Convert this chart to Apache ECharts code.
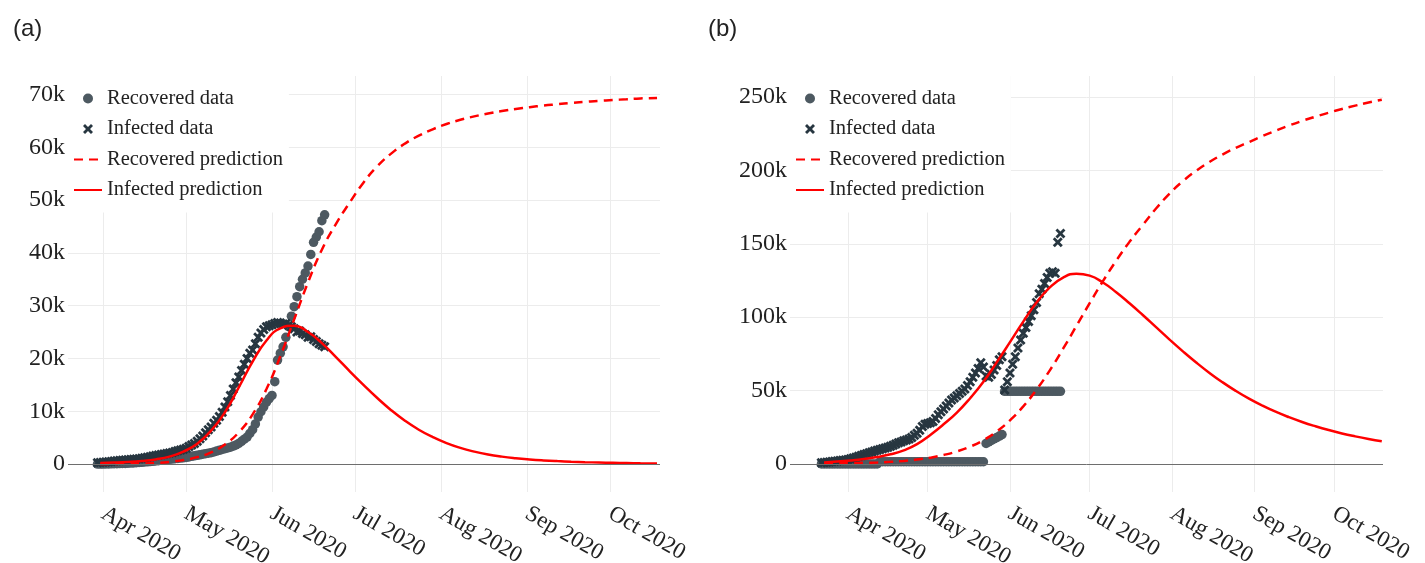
<!DOCTYPE html>
<html><head><meta charset="utf-8">
<script src="https://cdn.jsdelivr.net/npm/echarts@6/dist/echarts.min.js"></script>
<style>html,body{margin:0;padding:0;background:#fff}#c{width:1425px;height:563px}</style>
</head><body><div id="c"></div>
<script>
// ---------- tick labels ----------
const monthTickLabels = ['Jan 2020','Feb 2020','Mar 2020','Apr 2020','May 2020','Jun 2020','Jul 2020','Aug 2020','Sep 2020','Oct 2020','Nov 2020','Dec 2020'];
const legendNames = ['Recovered data','Infected data','Recovered prediction','Infected prediction'];
const panelLabels = ['(a)','(b)'];

// ---------- panel (a) observed data: daily from 2020-03-30 ----------
const startA = [2020, 2, 30];
const recoveredA = [
  0, 0,
  0, 10, 20, 30, 50, 60, 80, 100, 120, 150,
  180, 210, 250, 290, 330, 380, 420, 470, 520, 580,
  640, 700, 760, 820, 880, 940, 1000, 1060, 1120, 1180,
  1250, 1350, 1450, 1550, 1650, 1750, 1850, 1950, 2050, 2150,
  2300, 2450, 2600, 2750, 2900, 3050, 3200, 3400, 3600, 3900,
  4300, 4700, 5100, 5800, 6500, 7600, 8900, 9900, 10800, 11700, 12400,
  13000, 15600, 19700, 21000, 22200, 24000, 26000, 28000, 29800, 31700,
  33600, 35000, 36200, 37500, 39700, 42000, 43000, 44000, 46100, 47200
];
const infectedA = [
  250, 300,
  350, 400, 450, 500, 550, 600, 650, 700, 750, 800,
  850, 900, 950, 1000, 1100, 1200, 1300, 1400, 1500, 1600,
  1700, 1800, 1900, 2000, 2100, 2200, 2350, 2500, 2650, 2800,
  3000, 3300, 3600, 3900, 4300, 4800, 5300, 5900, 6500, 7000,
  7700, 8300, 9000, 9800, 10800, 11800, 13000, 14200, 15400, 16500,
  17700, 18900, 20000, 21000, 21600, 22800, 24000, 24800, 25500, 26000, 26200,
  26400, 26600, 26800, 26700, 26500, 26600, 26300, 26000, 25600, 25000,
  25200, 24700, 24500, 24000, 24100, 23600, 23200, 22800, 22500, 22200
];
// ---------- panel (a) predictions (every 5 days from 2020-03-31, last 2020-10-18) ----------
const predDatesA = ['2020-03-31','2020-04-05','2020-04-10','2020-04-15','2020-04-20','2020-04-25','2020-04-30','2020-05-05','2020-05-10','2020-05-15','2020-05-20','2020-05-25','2020-05-30','2020-06-04','2020-06-09','2020-06-14','2020-06-19','2020-06-24','2020-06-29','2020-07-04','2020-07-09','2020-07-14','2020-07-19','2020-07-24','2020-07-29','2020-08-03','2020-08-08','2020-08-13','2020-08-18','2020-08-23','2020-08-28','2020-09-02','2020-09-07','2020-09-12','2020-09-17','2020-09-22','2020-09-27','2020-10-02','2020-10-07','2020-10-12','2020-10-18'];
const infPredA = [200, 270, 380, 560, 870, 1400, 2350, 3850, 6300, 9800, 14500, 19400, 23400, 25700, 26200, 25000, 22900, 20300, 17600, 15000, 12500, 10200, 8200, 6500, 5100, 3950, 3050, 2350, 1800, 1400, 1100, 870, 690, 550, 440, 350, 280, 225, 180, 145, 115];
const recPredA = [0, 20, 50, 100, 200, 400, 750, 1300, 2200, 3700, 6000, 9400, 14200, 20400, 27400, 34400, 40600, 45400, 49500, 53300, 56400, 58800, 60700, 62200, 63400, 64400, 65200, 65850, 66400, 66850, 67250, 67600, 67900, 68150, 68400, 68600, 68800, 68950, 69100, 69250, 69350];

// ---------- panel (b) observed data: daily from 2020-03-22 ----------
const startB = [2020, 2, 22];
const infectedB = [
  800, 1000, 1200, 1400, 1700, 1900, 2100, 2300, 2500, 2700,
  3000, 3500, 4000, 4600, 5200, 5800, 6400, 7000, 7600, 8200,
  8800, 9300, 9800, 10300, 10800, 11400, 12000, 12800, 13600, 14500,
  15000, 15800, 16300, 17000, 18000, 19500, 21000, 23000, 25500, 27000,
  27500, 28000, 29000, 31000, 33500, 35500, 37500, 39500, 41500, 43500,
  45000, 46500, 48000, 49500, 51000, 53500, 56000, 59000, 62000, 65000,
  69000, 66000, 60000, 59000, 61000, 64000, 67000, 71000, 73000, 50400, 56000,
  62000, 68000, 73000, 79000, 84500, 89000, 93000, 97000, 101000, 105000,
  110000, 116000, 119000, 123000, 127000, 130000, 131000, 130000, 151000, 157000
];
const recoveredB = [
  0, 0, 0, 0, 0, 0, 0, 0, 0, 0,
  0, 0, 0, 0, 0, 0, 0, 0, 0, 0, 0, 0,
  1500, 1500, 1500, 1500, 1500, 1500, 1500, 1500, 1500, 1500, 1500, 1500, 1500, 1500, 1500, 1500, 1500, 1500,
  1500, 1500, 1500, 1500, 1500, 1500, 1500, 1500, 1500, 1500, 1500,
  1500, 1500, 1500, 1500, 1500, 1500, 1500, 1500, 1500, 1500, 1500,
  14000, 15000, 16000, 17000, 18000, 19000, 20000,
  49500, 49500,
  49500, 49500, 49500, 49500, 49500, 49500, 49500, 49500, 49500, 49500,
  49500, 49500, 49500, 49500, 49500, 49500, 49500, 49500, 49500, 49500
];
// ---------- panel (b) predictions (every 5 days from 2020-03-23) ----------
const predDatesB = ['2020-03-23','2020-03-28','2020-04-02','2020-04-07','2020-04-12','2020-04-17','2020-04-22','2020-04-27','2020-05-02','2020-05-07','2020-05-12','2020-05-17','2020-05-22','2020-05-27','2020-06-01','2020-06-06','2020-06-11','2020-06-16','2020-06-21','2020-06-26','2020-07-01','2020-07-06','2020-07-11','2020-07-16','2020-07-21','2020-07-26','2020-07-31','2020-08-05','2020-08-10','2020-08-15','2020-08-20','2020-08-25','2020-08-30','2020-09-04','2020-09-09','2020-09-14','2020-09-19','2020-09-24','2020-09-29','2020-10-04','2020-10-09','2020-10-14','2020-10-19'];
const infPredB = [1000, 1600, 2400, 3400, 4700, 6600, 9300, 13500, 19800, 27000, 35000, 44800, 56000, 69200, 83000, 97000, 110000, 120300, 127000, 129600, 128300, 123600, 117000, 109500, 101500, 93200, 84900, 76900, 69300, 62200, 55700, 49800, 44500, 39800, 35600, 31900, 28600, 25700, 23100, 20800, 18800, 17000, 15400];
const recPredB = [300, 420, 580, 780, 1050, 1450, 2050, 3000, 4300, 6100, 8500, 11800, 16200, 22100, 29700, 39200, 50600, 63800, 78500, 94000, 109500, 124500, 138500, 151300, 162800, 174000, 184000, 192500, 199600, 205600, 210800, 215300, 219300, 223300, 227000, 230500, 233700, 236600, 239300, 241800, 244100, 246200, 248100];

// ---------- helpers ----------
function dailySeries(start, values) {
  return values.map((v, i) => [new Date(start[0], start[1], start[2] + i).getTime(), v]);
}
function pairs(dates, values) {
  return values.map((v, i) => {
    const p = dates[i].split('-').map(Number);
    return [new Date(p[0], p[1] - 1, p[2]).getTime(), v];
  });
}
const DOT = '#4d5961';
const CROSS = '#273640';
const RED = '#ff0000';
const SERIF = '"Liberation Serif", "Times New Roman", serif';
const crossPath = 'path://M2,0 L5,3 L8,0 L10,2 L7,5 L10,8 L8,10 L5,7 L2,10 L0,8 L3,5 L0,2 Z';

const grids = [
  { left: 68, top: 76, width: 592, height: 416, outerBoundsMode: 'none', containLabel: false },
  { left: 790, top: 76, width: 593, height: 416, outerBoundsMode: 'none', containLabel: false }
];
const xRanges = [
  [new Date(2020, 2, 19, 8, 24).getTime(), new Date(2020, 9, 19, 1, 40).getTime()],
  [new Date(2020, 2, 10, 4, 0).getTime(), new Date(2020, 9, 19, 11, 0).getTime()]
];
const yRanges = [[-5300, 73500], [-19100, 264300]];
const ySplits = [8, 6];

function xAxis(i) {
  return {
    type: 'time', gridIndex: i, min: xRanges[i][0], max: xRanges[i][1],
    splitNumber: 7, maxInterval: 31 * 86400000, minInterval: 28 * 86400000,
    axisLine: { show: false }, axisTick: { show: false },
    splitLine: { show: true, showMinLine: false, showMaxLine: false, lineStyle: { color: '#ececec', width: 1 } },
    axisLabel: {
      rotate: -30, margin: 20, fontFamily: SERIF, fontSize: 23, color: '#222',
      hideOverlap: false,
      formatter: function (v) {
        const d = new Date(v);
        if (d.getDate() !== 1 || d.getHours() !== 0) return '';
        return monthTickLabels[d.getMonth()];
      }
    }
  };
}
function yAxis(i, step) {
  return {
    type: 'value', gridIndex: i, min: yRanges[i][0], max: yRanges[i][1], splitNumber: ySplits[i],
    axisLine: { show: false }, axisTick: { show: false },
    splitLine: { show: true, showMinLine: false, showMaxLine: false, lineStyle: { color: '#ececec', width: 1 } },
    axisLabel: {
      margin: 3, fontFamily: SERIF, fontSize: 24, color: '#222',
      formatter: function (v) {
        if (Math.round(v) % step !== 0) return '';
        return v === 0 ? '0' : (v / 1000) + 'k';
      }
    }
  };
}
function legend(i) {
  return {
    left: grids[i].left, top: grids[i].top, orient: 'vertical',
    backgroundColor: '#ffffff', padding: [12, 6, 12, 5],
    itemGap: 9.5, itemWidth: 28, itemHeight: 10,
    textStyle: { fontFamily: SERIF, fontSize: 20.5, color: '#222' },
    data: [
      { name: legendNames[0], icon: 'circle', itemStyle: { color: DOT } },
      { name: legendNames[1], icon: crossPath, itemStyle: { color: CROSS } },
      { name: legendNames[2], itemStyle: { opacity: 0 } },
      { name: legendNames[3], itemStyle: { opacity: 0 } }
    ]
  };
}
function panelSeries(i, rec, inf, recPred, infPred) {
  return [
    { name: legendNames[0], type: 'scatter', xAxisIndex: i, yAxisIndex: i, data: rec,
      symbol: 'circle', symbolSize: 9.5, itemStyle: { color: DOT, opacity: 1 },
      markLine: { silent: true, symbol: 'none', label: { show: false },
        lineStyle: { color: '#6e6e6e', width: 1, type: 'solid' }, data: [{ yAxis: 0 }] } },
    { name: legendNames[1], type: 'scatter', xAxisIndex: i, yAxisIndex: i, data: inf,
      symbol: crossPath, symbolSize: 10, itemStyle: { color: CROSS, opacity: 1 } },
    { name: legendNames[2], type: 'line', xAxisIndex: i, yAxisIndex: i, data: recPred,
      smooth: 0.5, symbol: 'none', showSymbol: false,
      lineStyle: { color: RED, width: 2.5, type: [9, 6] }, itemStyle: { color: RED } },
    { name: legendNames[3], type: 'line', xAxisIndex: i, yAxisIndex: i, data: infPred,
      smooth: 0.5, symbol: 'none', showSymbol: false,
      lineStyle: { color: RED, width: 2.5, type: 'solid' }, itemStyle: { color: RED } }
  ];
}

const chart = echarts.init(document.getElementById('c'), null, { renderer: 'canvas' });
chart.setOption({
  animation: false,
  backgroundColor: '#ffffff',
  title: [
    { text: panelLabels[0], left: 8, top: 12, textStyle: { fontFamily: '"Liberation Sans", Arial, sans-serif', fontSize: 24, fontWeight: 'normal', color: '#222' } },
    { text: panelLabels[1], left: 703, top: 12, textStyle: { fontFamily: '"Liberation Sans", Arial, sans-serif', fontSize: 24, fontWeight: 'normal', color: '#222' } }
  ],
  grid: grids,
  xAxis: [xAxis(0), xAxis(1)],
  yAxis: [yAxis(0, 10000), yAxis(1, 50000)],
  legend: [legend(0), legend(1)],
  series: [].concat(
    panelSeries(0, dailySeries(startA, recoveredA), dailySeries(startA, infectedA), pairs(predDatesA, recPredA), pairs(predDatesA, infPredA)),
    panelSeries(1, dailySeries(startB, recoveredB), dailySeries(startB, infectedB), pairs(predDatesB, recPredB), pairs(predDatesB, infPredB))
  )
});
</script>
</body></html>
